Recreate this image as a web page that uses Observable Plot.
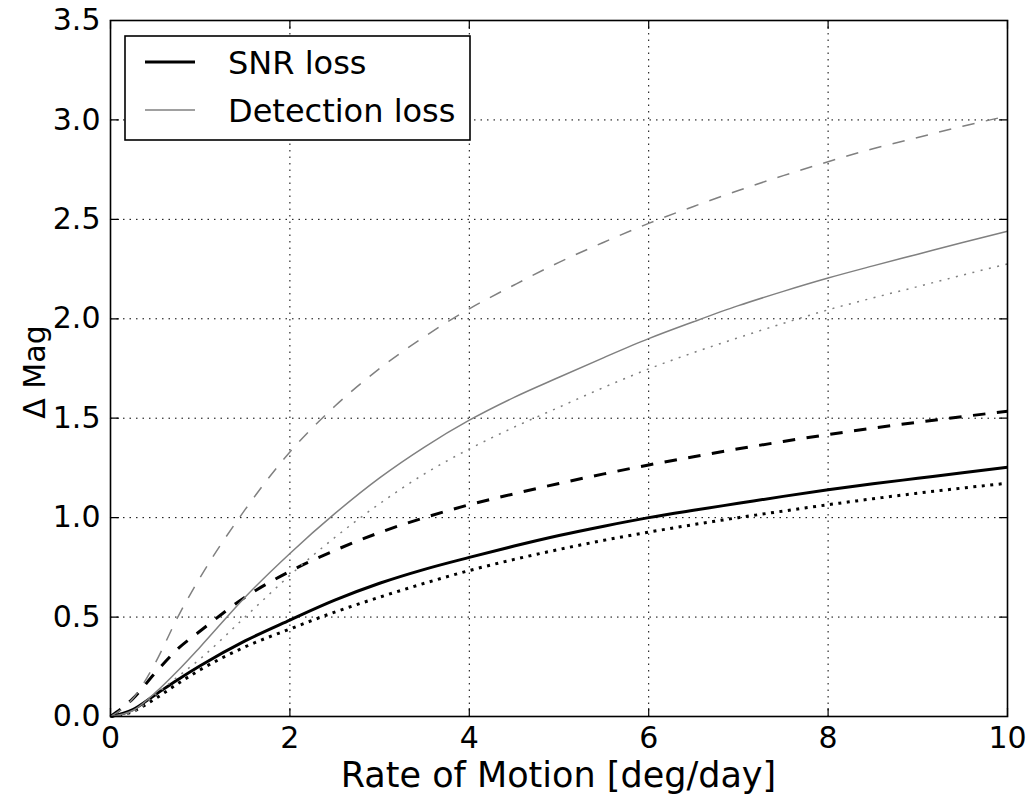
<!DOCTYPE html>
<html>
<head>
<meta charset="utf-8">
<script src="https://cdn.jsdelivr.net/npm/d3@7"></script>
<script src="https://cdn.jsdelivr.net/npm/@observablehq/plot@0.6"></script>
<style>
  body { margin: 0; background: #fff; }
  #wrap { position: relative; width: 1031px; height: 798px; font-family: "DejaVu Sans", sans-serif; }
  #wrap svg { display: block; }
</style>
</head>
<body>
<div id="wrap"></div>
<script>
// Rate of motion sampled along x (deg/day)
const rate = [0, 0.25, 0.5, 0.75, 1, 1.5, 2, 2.5, 3, 3.5, 4, 4.5, 5, 5.5, 6, 6.5, 7, 7.5, 8, 8.5, 9, 9.5, 10];

// Magnitude loss curves, SNR loss (black, thick)
const snrSolid  = [0, 0.035, 0.11, 0.185, 0.255, 0.38, 0.485, 0.585, 0.67, 0.74, 0.80, 0.857, 0.91, 0.957, 1.0, 1.037, 1.072, 1.107, 1.14, 1.17, 1.198, 1.226, 1.253];
const snrDashed = [0, 0.09, 0.22, 0.34, 0.43, 0.60, 0.73, 0.835, 0.925, 1.0, 1.065, 1.12, 1.172, 1.22, 1.265, 1.306, 1.346, 1.383, 1.418, 1.45, 1.48, 1.508, 1.535];
const snrDotted = [0, 0.025, 0.09, 0.165, 0.235, 0.35, 0.44, 0.525, 0.60, 0.67, 0.734, 0.79, 0.84, 0.886, 0.927, 0.965, 1.0, 1.033, 1.065, 1.095, 1.123, 1.149, 1.173];

// Detection loss (grey, thin)
const detSolid  = [0, 0.03, 0.12, 0.23, 0.35, 0.60, 0.82, 1.02, 1.20, 1.355, 1.49, 1.605, 1.706, 1.805, 1.90, 1.985, 2.066, 2.138, 2.205, 2.266, 2.325, 2.384, 2.44];
const detDashed = [0, 0.09, 0.27, 0.50, 0.70, 1.04, 1.33, 1.56, 1.75, 1.91, 2.05, 2.17, 2.284, 2.385, 2.48, 2.565, 2.645, 2.72, 2.79, 2.855, 2.912, 2.968, 3.02];
const detDotted = [0, 0.02, 0.11, 0.20, 0.29, 0.50, 0.71, 0.90, 1.07, 1.22, 1.345, 1.455, 1.555, 1.655, 1.748, 1.83, 1.905, 1.977, 2.045, 2.105, 2.162, 2.22, 2.276];

// Axis ticks
const xTicks = [0, 2, 4, 6, 8, 10];
const yTicks = [0, 0.5, 1.0, 1.5, 2.0, 2.5, 3.0, 3.5];
const xGrid = [2, 4, 6, 8];
const yGrid = [0.5, 1.0, 1.5, 2.0, 2.5, 3.0];

// Legend entries
const legendNames = ["SNR loss", "Detection loss"];
const black = "#000000", grey = "#808080";

const series = [
  {values: snrSolid,  stroke: black, width: 3,   dash: null},
  {values: snrDashed, stroke: black, width: 3,   dash: "12.5,11.5"},
  {values: snrDotted, stroke: black, width: 3,   dash: "3,5.5"},
  {values: detSolid,  stroke: grey,  width: 1.5, dash: null},
  {values: detDashed, stroke: grey,  width: 1.5, dash: "12.5,11.5"},
  {values: detDotted, stroke: grey,  width: 1.5, dash: "2,6.5"}
];

const tickShape = {
  draw(context, l) { context.moveTo(0, 0); context.lineTo(0, -l); }
};

const lineMarks = series.map(s =>
  Plot.line(rate.map((r, i) => ({r, v: s.values[i]})), {
    x: "r", y: "v", stroke: s.stroke, strokeWidth: s.width,
    strokeDasharray: s.dash, curve: "monotone-x", strokeLinecap: "butt"
  })
);

const tickLen = 8;
const chart = Plot.plot({
  width: 1031,
  height: 798,
  marginLeft: 110,
  marginRight: 24,
  marginTop: 20,
  marginBottom: 82,
  style: {fontFamily: "DejaVu Sans, sans-serif", fontSize: "30px", background: "white", color: "black", overflow: "visible"},
  x: {domain: [0, 10]},
  y: {domain: [0, 3.5]},
  marks: [
    Plot.gridX(xGrid, {stroke: "#000", strokeOpacity: 1, strokeWidth: 1, strokeDasharray: "1.5,5"}),
    Plot.gridY(yGrid, {stroke: "#000", strokeOpacity: 1, strokeWidth: 1, strokeDasharray: "1.5,5"}),
    ...lineMarks,
    // inward ticks on all four sides
    Plot.vector(xTicks, {x: d => d, frameAnchor: "bottom", length: tickLen, rotate: 0, anchor: "start", shape: tickShape, stroke: "#000", strokeWidth: 1.2}),
    Plot.vector(xTicks, {x: d => d, frameAnchor: "top", length: tickLen, rotate: 180, anchor: "start", shape: tickShape, stroke: "#000", strokeWidth: 1.2}),
    Plot.vector(yTicks, {y: d => d, frameAnchor: "left", length: tickLen, rotate: 90, anchor: "start", shape: tickShape, stroke: "#000", strokeWidth: 1.2}),
    Plot.vector(yTicks, {y: d => d, frameAnchor: "right", length: tickLen, rotate: -90, anchor: "start", shape: tickShape, stroke: "#000", strokeWidth: 1.2}),
    Plot.axisX(xTicks, {tickSize: 0, tickPadding: 10, label: null, fontSize: 30, tickFormat: d3.format("d")}),
    Plot.axisY(yTicks, {tickSize: 0, tickPadding: 10, label: null, fontSize: 30, tickFormat: d3.format(".1f")}),
    Plot.frame({stroke: "#000", strokeWidth: 1.6})
  ]
});

document.getElementById("wrap").appendChild(chart);

// Axis titles and legend, placed with the chart's own scales
const svg = d3.select(chart);
const xs = chart.scale("x"), ys = chart.scale("y");
const x0 = xs.apply(0), x1 = xs.apply(10), yTop = ys.apply(3.5), yBot = ys.apply(0);

svg.append("text")
  .attr("x", (x0 + x1) / 2).attr("y", 787)
  .attr("text-anchor", "middle")
  .attr("font-family", "DejaVu Sans, sans-serif").attr("font-size", 35)
  .text("Rate of Motion [deg/day]");

svg.append("text")
  .attr("transform", `translate(45,${(yTop + yBot) / 2 + 4}) rotate(-90)`)
  .attr("text-anchor", "middle")
  .attr("font-family", "DejaVu Sans, sans-serif").attr("font-size", 30)
  .text("\u0394 Mag");

const lg = svg.append("g").attr("transform", `translate(${x0 + 15},${yTop + 16})`);
lg.append("rect").attr("width", 345).attr("height", 104)
  .attr("fill", "white").attr("stroke", "#000").attr("stroke-width", 1.6);
const legendStyles = [series[0], series[3]];
legendNames.forEach((name, i) => {
  const cy = 26 + i * 48;
  lg.append("line").attr("x1", 20).attr("x2", 70).attr("y1", cy).attr("y2", cy)
    .attr("stroke", legendStyles[i].stroke).attr("stroke-width", legendStyles[i].width);
  lg.append("text").attr("x", 103).attr("y", cy).attr("dy", "0.37em")
    .attr("text-anchor", "start")
    .attr("font-family", "DejaVu Sans, sans-serif").attr("font-size", 32)
    .text(name);
});
</script>
</body>
</html>
